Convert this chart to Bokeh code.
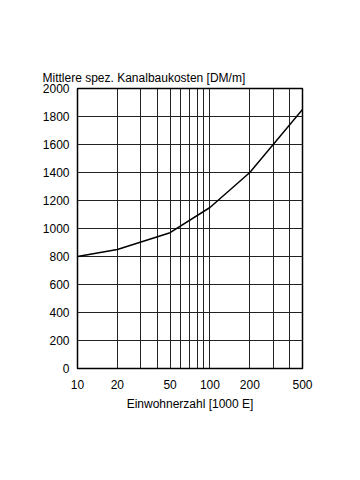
from bokeh.plotting import figure
from bokeh.models import FixedTicker, NumeralTickFormatter
from bokeh.embed import file_html
from bokeh.resources import INLINE

# Data
einwohner = [10, 20, 50, 100, 200, 500]
kosten = [800, 850, 970, 1150, 1400, 1850]
x_tick_labels = [10, 20, 50, 100, 200, 500]
x_grid_values = [10, 20, 30, 40, 50, 60, 70, 80, 90, 100, 200, 300, 400, 500]
y_ticks = [0, 200, 400, 600, 800, 1000, 1200, 1400, 1600, 1800, 2000]

FONT = "Liberation Sans"

p = figure(width=352, height=448, x_axis_type="log",
           x_range=(10, 500), y_range=(0, 2000),
           output_backend="svg", toolbar_location=None,
           min_border_left=77, min_border_right=50,
           min_border_top=88, min_border_bottom=80,
           title="Mittlere spez. Kanalbaukosten [DM/m]")

p.title.text_font = FONT
p.title.text_font_size = "12px"
p.title.text_font_style = "normal"
p.title.text_color = "black"
p.title.align = "left"
p.title.offset = -35
p.title.standoff = 8

p.outline_line_color = "black"
p.outline_line_width = 1.5
p.outline_line_alpha = 1

p.line(einwohner, kosten, line_color="black", line_width=1.5)

# x axis
p.xaxis.ticker = FixedTicker(ticks=x_tick_labels, minor_ticks=[])
p.xaxis.formatter = NumeralTickFormatter(format="0")
p.xaxis.axis_label = "Einwohnerzahl [1000 E]"
p.xaxis.axis_label_standoff = 5
p.xaxis.major_label_standoff = 11

# y axis
p.yaxis.ticker = FixedTicker(ticks=y_ticks, minor_ticks=[])
p.yaxis.major_label_standoff = 8

for ax in (p.xaxis, p.yaxis):
    ax.axis_line_color = None
    ax.major_tick_line_color = None
    ax.minor_tick_line_color = None
    ax.major_tick_out = 0
    ax.major_tick_in = 0
    ax.major_label_text_font = FONT
    ax.major_label_text_font_size = "12px"
    ax.major_label_text_color = "black"
    ax.axis_label_text_font = FONT
    ax.axis_label_text_font_size = "12px"
    ax.axis_label_text_font_style = "normal"
    ax.axis_label_text_color = "black"

p.xgrid.ticker = FixedTicker(ticks=x_grid_values, minor_ticks=[])
p.ygrid.ticker = FixedTicker(ticks=y_ticks, minor_ticks=[])
for g in (p.xgrid, p.ygrid):
    g.grid_line_color = "#222222"
    g.grid_line_width = 1
    g.grid_line_alpha = 1

open("out.html", "w").write(file_html(p, INLINE))
